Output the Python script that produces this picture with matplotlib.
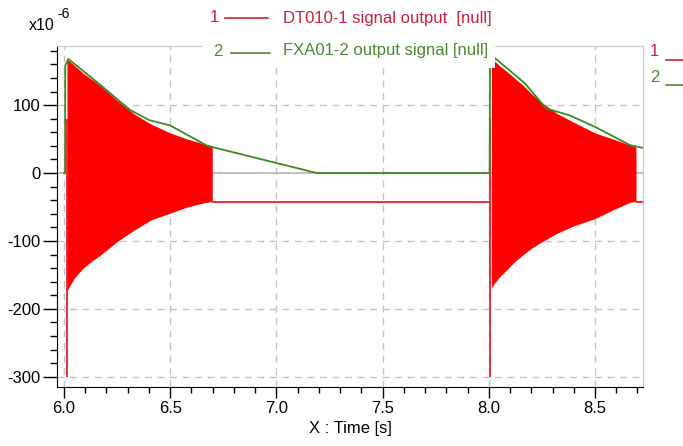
import numpy as np
import matplotlib.pyplot as plt
from matplotlib.patches import Rectangle
from matplotlib.lines import Line2D
from matplotlib.ticker import MultipleLocator, FixedLocator

plt.rcParams['font.family'] = ['Liberation Sans', 'DejaVu Sans']

# values in units of 1e-6, time in s
burst1_t = [6.014, 6.02, 6.05, 6.09, 6.13, 6.17, 6.21, 6.25, 6.33, 6.41, 6.5, 6.58, 6.67, 6.698]
burst1_top = [165, 166, 158, 147, 138, 129, 118, 107, 87, 72, 59, 50, 42, 40]
burst1_bot = [-175, -170, -154, -140, -130, -121, -111, -101, -84, -69, -59, -50, -43, -42]

burst2_t = [8.012, 8.02, 8.05, 8.083, 8.12, 8.162, 8.2, 8.24, 8.319, 8.398, 8.5, 8.586, 8.665, 8.693]
burst2_top = [165, 167, 158, 150, 140, 129, 117, 106, 88, 75, 59, 50, 41, 38]
burst2_bot = [-170, -165, -153, -143, -131, -120, -111, -103, -89, -78, -67, -54, -43, -42]

spike_t = [6.012, 8.006]
spike_lo = [-300, -300]
spike_hi = [80, 80]

base_level = -42
base_from = [6.698, 8.693]
base_to = [8.006, 8.726]

green_t = [6.0, 6.005, 6.006, 6.02, 6.17, 6.31, 6.40, 6.5, 6.675, 7.19, 8.0,
           8.004, 8.006, 8.03, 8.17, 8.27, 8.38, 8.5, 8.665, 8.725]
green_v = [0, 0, 158, 168, 130, 93, 78, 70, 40, 0, 0,
           0, 155, 169, 132, 95, 85, 68, 41, 37]

xticks = [6.0, 6.5, 7.0, 7.5, 8.0, 8.5]
yticks = [-300, -200, -100, 0, 100]

W, H = 683, 446
fig = plt.figure(figsize=(W/100, H/100), dpi=100)
ax = fig.add_axes([57/W, (H-387)/H, (643-57)/W, (387-46)/H])

red_fill = '#ff0000'
red_line = '#e8202a'
green = '#3c8a22'

ax.fill_between(burst1_t, burst1_bot, burst1_top, color=red_fill, lw=0, zorder=3)
ax.fill_between(burst2_t, burst2_bot, burst2_top, color=red_fill, lw=0, zorder=3)
ax.vlines(spike_t, spike_lo, spike_hi, color=red_line, lw=1.3, zorder=3)
ax.hlines([base_level]*2, base_from, base_to, color=red_line, lw=1.3, zorder=3)
ax.plot(green_t, green_v, color=green, lw=1.3, zorder=4)

ax.axhline(0, color='#b4b4b4', lw=1.2, zorder=1)
for x in xticks:
    ax.axvline(x, color='#c4c4c4', lw=1, ls=(0, (5, 4)), zorder=0)
for y in yticks:
    if y != 0:
        ax.axhline(y, color='#c4c4c4', lw=1, ls=(0, (5, 4)), zorder=0)

ax.set_xlim(5.967, 8.726)
ax.set_ylim(-315, 187)
ax.set_xticks(xticks)
ax.set_xticklabels(['%.1f' % x for x in xticks])
ax.set_yticks(yticks)
ax.set_yticklabels([str(y) for y in yticks])
ax.xaxis.set_minor_locator(FixedLocator(np.round(np.arange(6.0, 8.75, 0.1), 2)))
ax.yaxis.set_minor_locator(MultipleLocator(20))
ax.tick_params(which='major', length=8, width=1, direction='out', labelsize=12, pad=2, colors='black')
ax.tick_params(which='minor', length=4, width=1, direction='out')
ax.tick_params(axis='y', which='major', length=10)
ax.tick_params(axis='y', which='minor', length=5)

for side in ['top', 'right']:
    ax.spines[side].set_color('#c8c8c8')
for side in ['left', 'bottom']:
    ax.spines[side].set_color('black')

ax.set_xlabel('X : Time [s]', fontsize=12, labelpad=4)

# legend box over the top of the frame
fig.patches.append(Rectangle((203/W, 1-68/H), (495-203)/W, 68/H, transform=fig.transFigure,
                             facecolor='white', edgecolor='none', zorder=5))

leg_red = '#cc1f3c'
leg_green = '#4a8a30'


def px(x, y):
    return x/W, 1-y/H


def fig_line(x0, x1, y, color, z=6):
    fig.add_artist(Line2D([x0/W, x1/W], [1-y/H]*2, color=color, lw=1.2,
                          transform=fig.transFigure, zorder=z))


fig.text(*px(210, 18), '1', color=leg_red, fontsize=12, va='center', ha='left', zorder=6)
fig_line(225, 268, 18, leg_red)
fig.text(*px(283, 18), 'DT010-1 signal output  [null]', color=leg_red, fontsize=12,
         va='center', ha='left', zorder=6)

fig.text(*px(213, 51), '2', color=leg_green, fontsize=12, va='center', ha='left', zorder=6)
fig_line(231, 270, 53, leg_green)
fig.text(*px(283, 51), 'FXA01-2 output signal [null]', color=leg_green, fontsize=12,
         va='center', ha='left', zorder=6)

# small legend on the right
fig.text(*px(650, 52), '1', color=leg_red, fontsize=12, va='center', ha='left')
fig_line(666, 683, 60, leg_red)
fig.text(*px(650, 78), '2', color=leg_green, fontsize=12, va='center', ha='left')
fig_line(666, 683, 85, leg_green)

# exponent label
fig.text(*px(29, 26), 'x10', fontsize=11.5, va='center', ha='left')
fig.text(*px(57, 14), '-6', fontsize=10, va='center', ha='left')

fig.savefig('out.png', dpi=100)
